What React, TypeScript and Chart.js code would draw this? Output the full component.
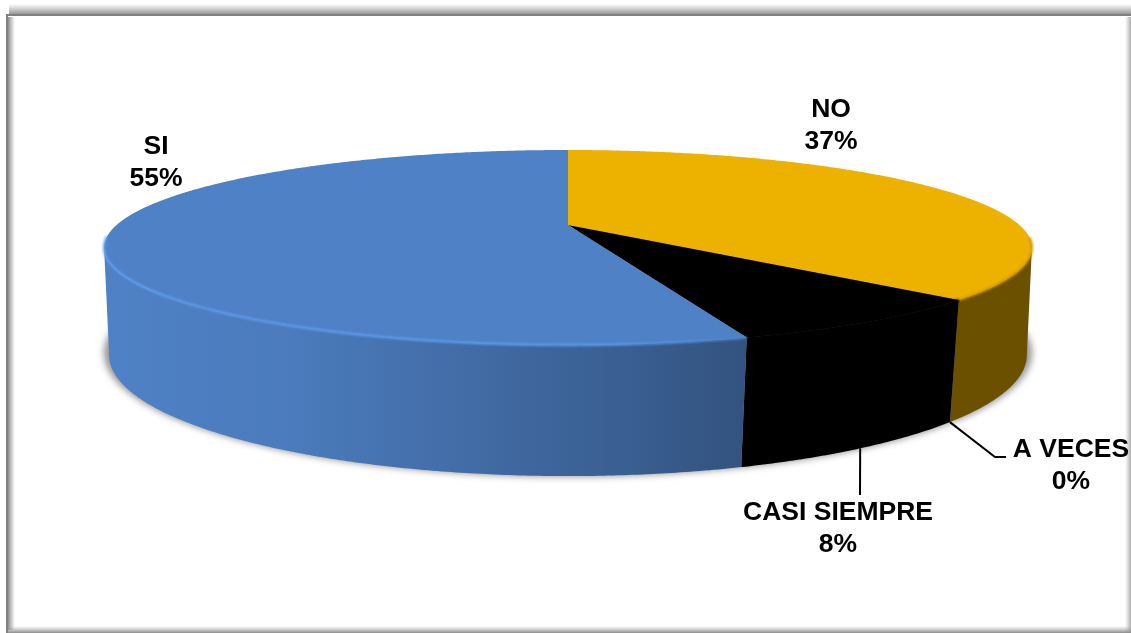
import { useEffect, useRef } from "react";
import { Chart, registerables } from "chart.js";

Chart.register(...registerables);

const categories = ["NO", "A VECES", "CASI SIEMPRE", "SI"];
const percentages = [37, 0, 8, 55];
const sliceColors = ["#EDB100", "#A5A5A5", "#000000", "#4F81C6"];
const rimColors = ["#C89600", "#A5A5A5", "#000000", "#5C9EF0"];

const WIDTH = 1131;
const HEIGHT = 633;
const FONT = 'bold 26.5px "Liberation Sans", Arial, sans-serif';
const LINE_GAP = 32;

// Perspective planes of the disc: top face and floor of the cylinder.
type Plane = { cx: number; a: number; b: number; c: number; k: number };
const topPlane: Plane = { cx: 568, a: -40.4, b: 225, c: 0.2308, k: 451.4 };
const floorPlane: Plane = { cx: 568, a: -46.5, b: 329.6, c: 0.21, k: 448.6 };

// Angular range of the wall that faces the viewer, measured like the arcs.
const WALL_FROM = -Math.PI / 2 + (103.3 * Math.PI) / 180;
const WALL_TO = -Math.PI / 2 + (256.7 * Math.PI) / 180;
const RIM_TO = -Math.PI / 2 + (263 * Math.PI) / 180;
const STEP = Math.PI / 360;

const labelCenters = [
  { x: 831, y: 110 },
  { x: 1071, y: 450 },
  { x: 838, y: 513 },
  { x: 156, y: 147 },
];
const leaderBends: ({ x: number; y: number }[] | null)[] = [
  null,
  [{ x: 995, y: 457 }, { x: 1006, y: 457 }],
  [{ x: 860, y: 495 }],
  null,
];

function project(p: Plane, angle: number) {
  const u = Math.cos(angle);
  const v = -Math.sin(angle);
  const d = p.c * v + 1;
  return { x: p.cx + (p.k * u) / d, y: (p.a * v + p.b) / d };
}

function arcPoints(p: Plane, from: number, to: number) {
  const pts = [];
  const n = Math.max(1, Math.ceil((to - from) / STEP));
  for (let i = 0; i <= n; i++) pts.push(project(p, from + ((to - from) * i) / n));
  return pts;
}

function tracePoints(ctx: CanvasRenderingContext2D, pts: { x: number; y: number }[], move = true) {
  pts.forEach((pt, i) => {
    if (i === 0 && move) ctx.moveTo(pt.x, pt.y);
    else ctx.lineTo(pt.x, pt.y);
  });
}

function shade(hex: string, f: number) {
  const n = parseInt(hex.slice(1), 16);
  const r = Math.round(((n >> 16) & 255) * f);
  const g = Math.round(((n >> 8) & 255) * f);
  const b = Math.round((n & 255) * f);
  return `rgb(${r},${g},${b})`;
}

function drawFrame(ctx: CanvasRenderingContext2D) {
  ctx.fillStyle = "#FFFFFF";
  ctx.fillRect(0, 0, WIDTH, HEIGHT);

  const top = ctx.createLinearGradient(0, 4, 0, 15);
  top.addColorStop(0, "rgba(150,150,150,0)");
  top.addColorStop(1, "rgba(140,140,140,1)");
  ctx.fillStyle = top;
  ctx.fillRect(9, 4, WIDTH - 9, 11);

  const left = ctx.createLinearGradient(8, 0, 15, 0);
  left.addColorStop(0, "rgba(140,140,140,1)");
  left.addColorStop(1, "rgba(160,160,160,0)");
  ctx.fillStyle = left;
  ctx.fillRect(8, 17, 7, HEIGHT - 20);

  const right = ctx.createLinearGradient(1125, 0, 1131, 0);
  right.addColorStop(0, "rgba(190,190,190,0)");
  right.addColorStop(1, "rgba(170,170,170,1)");
  ctx.fillStyle = right;
  ctx.fillRect(1125, 17, 6, HEIGHT - 17);

  const bottom = ctx.createLinearGradient(0, 626, 0, 633);
  bottom.addColorStop(0, "rgba(170,170,170,0)");
  bottom.addColorStop(1, "rgba(140,140,140,1)");
  ctx.fillStyle = bottom;
  ctx.fillRect(8, 626, WIDTH - 8, 7);

  ctx.fillStyle = "#808080";
  ctx.fillRect(6, 14, WIDTH - 6, 2);
  ctx.fillRect(6, 14, 2, HEIGHT - 14);
}

function drawGroundShadow(ctx: CanvasRenderingContext2D) {
  ctx.save();
  ctx.filter = "blur(3.5px)";
  ctx.fillStyle = "rgba(120,120,120,0.8)";
  ctx.beginPath();
  ctx.ellipse(568, 353, 464, 123.5, 0, 0, Math.PI * 2);
  ctx.fill();
  ctx.restore();
}

function wallGradient(ctx: CanvasRenderingContext2D, color: string) {
  const g = ctx.createLinearGradient(110, 0, 1030, 0);
  g.addColorStop(0, shade(color, 1));
  g.addColorStop(0.2, shade(color, 0.95));
  g.addColorStop(0.53, shade(color, 0.75));
  g.addColorStop(0.69, shade(color, 0.64));
  g.addColorStop(0.92, shade(color, 0.45));
  g.addColorStop(1, shade(color, 0.45));
  return g;
}

// Replaces the flat arc drawing with a projected cylinder, still driven by the
// angles the pie controller computed for each element.
const cylinderPie = {
  id: "cylinderPie",
  beforeDatasetsDraw(chart: Chart) {
    const ctx = chart.ctx;
    const arcs = chart.getDatasetMeta(0).data as any[];
    const colors = chart.data.datasets[0].backgroundColor as string[];
    drawFrame(ctx);
    drawGroundShadow(ctx);

    arcs.forEach((arc, i) => {
      const from = Math.max(arc.startAngle, WALL_FROM);
      const to = Math.min(arc.endAngle, WALL_TO);
      if (to <= from) return;
      const fill = colors[i] === "#000000" ? "#000000" : wallGradient(ctx, colors[i]);
      ctx.beginPath();
      tracePoints(ctx, arcPoints(topPlane, from, to));
      tracePoints(ctx, arcPoints(floorPlane, from, to).reverse(), false);
      ctx.closePath();
      ctx.fillStyle = fill;
      ctx.fill();
    });

    arcs.forEach((arc, i) => {
      if (arc.endAngle - arc.startAngle <= 0) return;
      ctx.beginPath();
      ctx.moveTo(topPlane.cx, topPlane.b);
      tracePoints(ctx, arcPoints(topPlane, arc.startAngle, arc.endAngle), false);
      ctx.closePath();
      ctx.fillStyle = colors[i];
      ctx.fill();
    });

    ctx.save();
    ctx.filter = "blur(0.8px)";
    ctx.lineWidth = 2.2;
    arcs.forEach((arc, i) => {
      const from = Math.max(arc.startAngle, WALL_FROM - 0.1);
      const to = Math.min(arc.endAngle, RIM_TO);
      if (to <= from) return;
      ctx.beginPath();
      tracePoints(ctx, arcPoints(topPlane, from, to));
      const g = ctx.createLinearGradient(110, 0, 760, 0);
      g.addColorStop(0, rimColors[i]);
      g.addColorStop(0.75, rimColors[i]);
      g.addColorStop(1, i === 3 ? colors[i] : rimColors[i]);
      ctx.strokeStyle = g;
      ctx.stroke();
    });
    ctx.restore();
    return false;
  },
  afterDraw(chart: Chart) {
    const ctx = chart.ctx;
    const arcs = chart.getDatasetMeta(0).data as any[];
    const values = chart.data.datasets[0].data as number[];
    ctx.save();
    ctx.strokeStyle = "#000000";
    ctx.lineWidth = 2;
    arcs.forEach((arc, i) => {
      const bends = leaderBends[i];
      if (!bends) return;
      const start = project(floorPlane, (arc.startAngle + arc.endAngle) / 2);
      ctx.beginPath();
      ctx.moveTo(start.x, start.y);
      bends.forEach((pt) => ctx.lineTo(pt.x, pt.y));
      ctx.stroke();
    });
    ctx.fillStyle = "#000000";
    ctx.font = FONT;
    ctx.textAlign = "center";
    ctx.textBaseline = "middle";
    categories.forEach((name, i) => {
      const c = labelCenters[i];
      ctx.fillText(name, c.x, c.y);
      ctx.fillText(`${values[i]}%`, c.x, c.y + LINE_GAP);
    });
    ctx.restore();
  },
};

export default function App() {
  const canvasRef = useRef<HTMLCanvasElement>(null);

  useEffect(() => {
    const chart = new Chart(canvasRef.current!, {
      type: "pie",
      data: {
        labels: categories,
        datasets: [{ data: percentages, backgroundColor: sliceColors, borderWidth: 0 }],
      },
      options: {
        responsive: false,
        animation: false,
        rotation: 0,
        plugins: { legend: { display: false }, tooltip: { enabled: false } },
      },
      plugins: [cylinderPie],
    });
    return () => chart.destroy();
  }, []);

  return (
    <div style={{ position: "absolute", left: 0, top: 0, width: WIDTH, height: HEIGHT }}>
      <canvas ref={canvasRef} width={WIDTH} height={HEIGHT} style={{ display: "block" }} />
    </div>
  );
}
